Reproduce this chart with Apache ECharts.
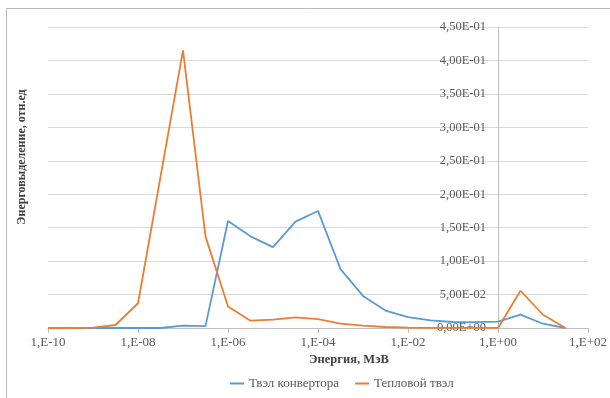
<!DOCTYPE html>
<html><head><meta charset="utf-8">
<script src="https://cdn.jsdelivr.net/npm/echarts@6/dist/echarts.min.js"></script>
<style>html,body{margin:0;padding:0;background:#fff}#c{width:610px;height:398px}</style>
</head><body><div id="c"></div>
<script>
// Energy points, MeV (half-decade steps)
const energies = [1e-10, 3.16e-10, 1e-9, 3.16e-9, 1e-8, 3.16e-8, 1e-7, 3.16e-7, 1e-6, 3.16e-6,
  1e-5, 3.16e-5, 1e-4, 3.16e-4, 1e-3, 3.16e-3, 1e-2, 3.16e-2, 1e-1, 3.16e-1, 1, 3.16, 10, 31.6];
const converterValues = [0, 0, 0, 0, 0, 0, 0.0035, 0.0028, 0.160, 0.137,
  0.121, 0.159, 0.175, 0.088, 0.048, 0.026, 0.0164, 0.0114, 0.009, 0.0087, 0.0094, 0.020, 0.0064, 0];
const thermalValues = [0, 0, 0.0005, 0.0045, 0.037, 0.226, 0.415, 0.137, 0.032, 0.011,
  0.0124, 0.0158, 0.0134, 0.0064, 0.0034, 0.0015, 0.0006, 0.0003, 0.0002, 0.0001, 0.0001, 0.0557, 0.0198, 0];
const seriesNames = ['Твэл конвертора', 'Тепловой твэл'];
const xTickLabels = ['1,E-10', '1,E-08', '1,E-06', '1,E-04', '1,E-02', '1,E+00', '1,E+02'];
const yTickLabels = ['0,00E+00', '5,00E-02', '1,00E-01', '1,50E-01', '2,00E-01', '2,50E-01',
  '3,00E-01', '3,50E-01', '4,00E-01', '4,50E-01'];
const xTitle = 'Энергия, МэВ';
const yTitle = 'Энерговыделение, отн.ед';
const yAxisCrossAt = 1; // value axis crosses the energy axis at 1 MeV

const FONT = '"Liberation Serif", "Times New Roman", serif';
const chart = echarts.init(document.getElementById('c'), null, {renderer: 'canvas'});
const option = {
  animation: false,
  grid: {left: 48, right: 22, top: 27, bottom: 70, containLabel: false, outerBoundsMode: 'none'},
  legend: {
    left: 225, top: 372, itemGap: 16, itemWidth: 14, itemHeight: 2, icon: 'rect',
    textStyle: {fontFamily: FONT, fontSize: 13, color: '#595959'},
    data: seriesNames
  },
  xAxis: {
    type: 'log', logBase: 10, min: 1e-10, max: 100, interval: 2,
    axisLine: {lineStyle: {color: '#bfbfbf', width: 1}},
    axisTick: {show: true, length: 5, lineStyle: {color: '#bfbfbf'}},
    minorTick: {show: false},
    splitLine: {show: false},
    axisLabel: {
      margin: 8, fontFamily: FONT, fontSize: 13, color: '#595959',
      formatter: v => xTickLabels[Math.round((Math.log10(v) + 10) / 2)] || ''
    }
  },
  yAxis: {
    type: 'value', min: 0, max: 0.45, interval: 0.05, offset: 0,
    axisLine: {show: true, onZero: false, lineStyle: {color: '#bfbfbf', width: 1}},
    axisTick: {show: false},
    splitLine: {lineStyle: {color: '#d9d9d9', width: 1}},
    axisLabel: {
      margin: 12, fontFamily: FONT, fontSize: 12.5, color: '#595959',
      formatter: v => yTickLabels[Math.round(v / 0.05)]
    }
  },
  graphic: [
    {type: 'polyline', silent: true, shape: {points: [[6.5, 420], [6.5, 8.5], [640, 8.5]]},
      style: {fill: 'none', stroke: '#bcbcbc', lineWidth: 1}},
    {type: 'text', x: 22, y: 157, rotation: Math.PI / 2,
      style: {text: yTitle, font: 'bold 12px ' + FONT, fill: '#404040', textAlign: 'center', textVerticalAlign: 'middle'}},
    {type: 'text', x: 349, y: 360,
      style: {text: xTitle, font: 'bold 12.5px ' + FONT, fill: '#404040', textAlign: 'center', textVerticalAlign: 'middle'}}
  ],
  series: [
    {name: seriesNames[0], type: 'line', showSymbol: false, symbol: 'none',
      lineStyle: {color: '#5b9bd5', width: 1.8}, itemStyle: {color: '#5b9bd5'},
      data: energies.map((e, i) => [e, converterValues[i]])},
    {name: seriesNames[1], type: 'line', showSymbol: false, symbol: 'none',
      lineStyle: {color: '#ed7d31', width: 1.8}, itemStyle: {color: '#ed7d31'},
      data: energies.map((e, i) => [e, thermalValues[i]])}
  ]
};
chart.setOption(option);
// place the value axis where the log axis crosses 1 MeV (as in the source chart)
for (let k = 0; k < 3; k++) {
  const xOne = chart.convertToPixel({xAxisIndex: 0}, yAxisCrossAt);
  const xStart = chart.convertToPixel({xAxisIndex: 0}, energies[0]);
  chart.setOption({yAxis: {offset: -(xOne - xStart)}});
}
</script>
</body></html>
